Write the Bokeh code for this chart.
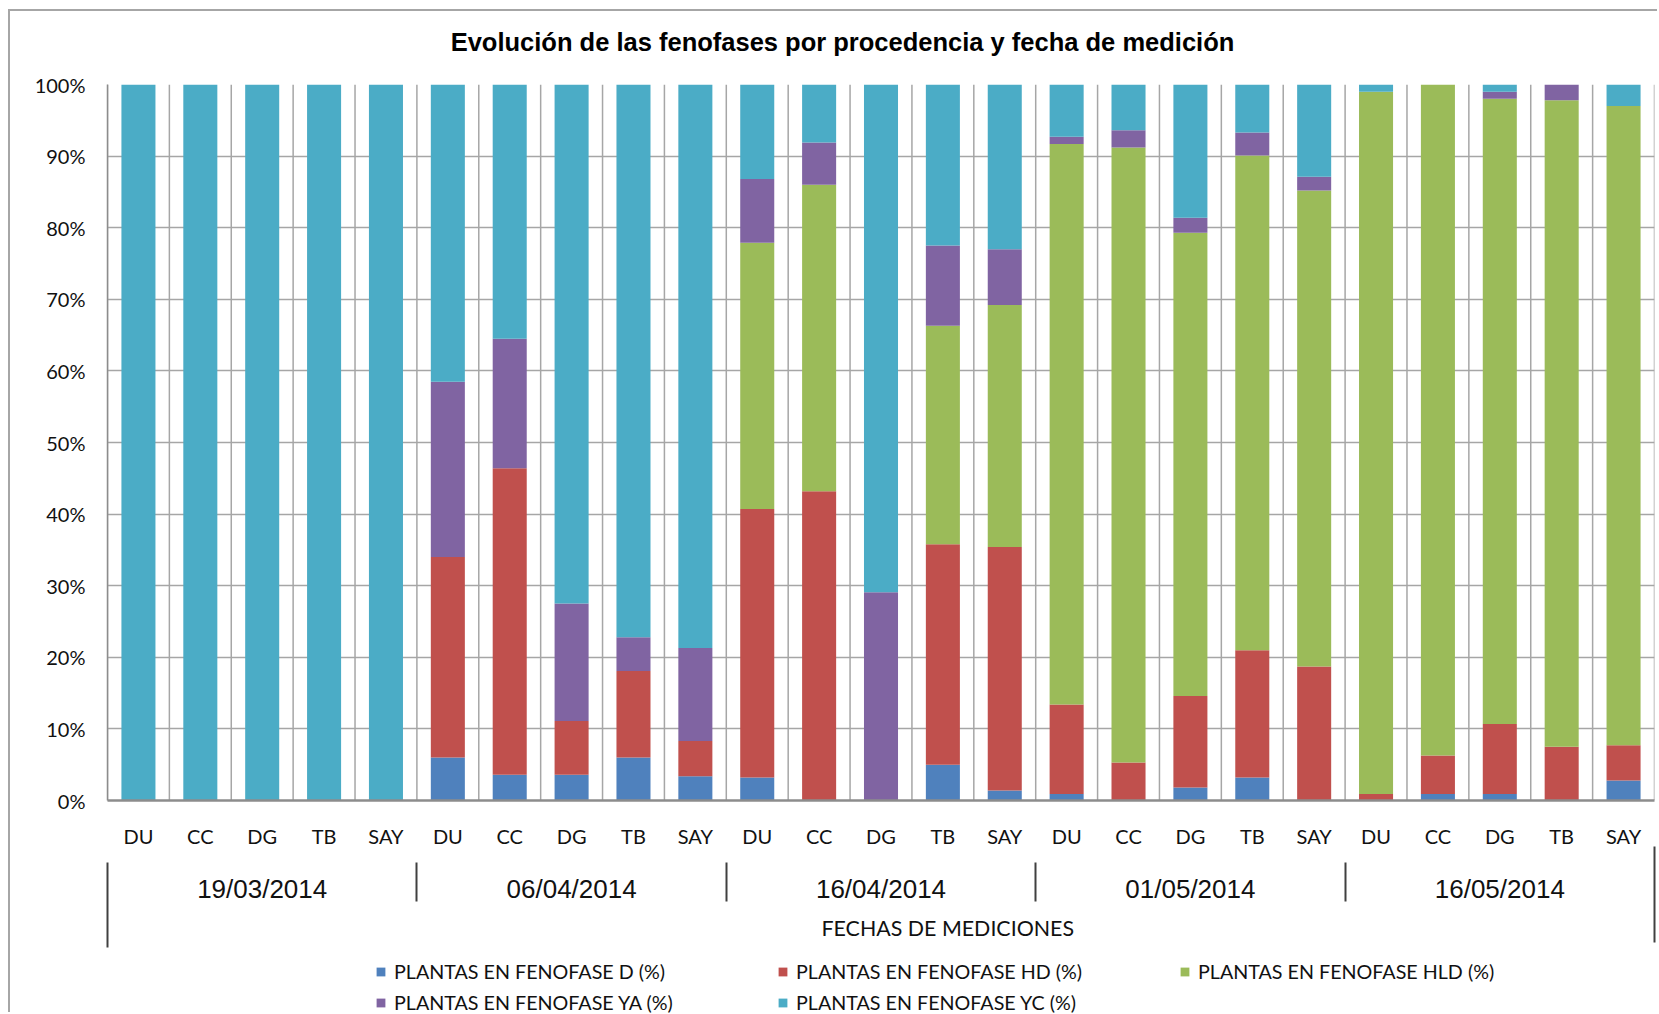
from bokeh.plotting import figure
from bokeh.layouts import column
from bokeh.models import (FactorRange, Range1d, LinearAxis, FixedTicker, Legend,
                          LegendItem, Title, PrintfTickFormatter, ColumnDataSource)
from bokeh.embed import file_html
from bokeh.resources import INLINE

# Measurement dates and provenances
dates = ["19/03/2014", "06/04/2014", "16/04/2014", "01/05/2014", "16/05/2014"]
sites = ["DU", "CC", "DG", "TB", "SAY"]

# Share of plants in each phenophase (%), one value per (date, provenance)
fase_d = [0, 0, 0, 0, 0,
          6.0, 3.6, 3.6, 6.0, 3.4,
          3.2, 0, 0, 5.0, 1.4,
          0.9, 0, 1.8, 3.2, 0,
          0, 0.9, 0.9, 0, 2.8]
fase_hd = [0, 0, 0, 0, 0,
           28.0, 42.8, 7.5, 12.1, 4.9,
           37.5, 43.2, 0, 30.8, 34.0,
           12.5, 5.3, 12.8, 17.8, 18.7,
           0.9, 5.4, 9.8, 7.5, 4.9]
fase_hld = [0, 0, 0, 0, 0,
            0, 0, 0, 0, 0,
            37.2, 42.8, 0, 30.5, 33.8,
            78.3, 85.9, 64.7, 69.1, 66.5,
            98.1, 93.7, 87.3, 90.3, 89.3]
fase_ya = [0, 0, 0, 0, 0,
           24.5, 18.1, 16.4, 4.7, 13.0,
           8.9, 5.9, 29.1, 11.2, 7.8,
           1.0, 2.4, 2.1, 3.2, 1.9,
           0, 0, 1.0, 2.2, 0]
fase_yc = [100, 100, 100, 100, 100,
           41.5, 35.5, 72.5, 77.2, 78.7,
           13.2, 8.1, 70.9, 22.5, 23.0,
           7.3, 6.4, 18.6, 6.7, 12.9,
           1.0, 0, 1.0, 0, 3.0]

series_names = ["PLANTAS EN FENOFASE D (%)", "PLANTAS EN FENOFASE HD (%)",
                "PLANTAS EN FENOFASE HLD (%)", "PLANTAS EN FENOFASE YA (%)",
                "PLANTAS EN FENOFASE YC (%)"]
colors = ["#4f81bd", "#c0504d", "#9bbb59", "#8064a2", "#4bacc6"]
chart_title = "Evolución de las fenofases por procedencia y fecha de medición"

factors = [(d, s) for d in dates for s in sites]
keys = ["d", "hd", "hld", "ya", "yc"]
source = ColumnDataSource(dict(x=factors, d=fase_d, hd=fase_hd, hld=fase_hld,
                               ya=fase_ya, yc=fase_yc))

# page layout (pixels): the chart box starts just inside a thin frame line
OX, OY = 10, 11
W = 1659 - OX
LEG_H = 60                      # height of the legend strip
H = 1014 - OY - LEG_H           # height of the chart itself
FRAME_LEFT, FRAME_RIGHT, FRAME_TOP, FRAME_BOTTOM = 107, 1654, 84, 800
x_range = FactorRange(*factors, factor_padding=0, group_padding=0, range_padding=0)
p = figure(x_range=x_range, y_range=Range1d(0, 100), width=W, height=H,
           output_backend="svg", toolbar_location=None,
           min_border_left=FRAME_LEFT - OX, min_border_right=1659 - FRAME_RIGHT,
           min_border_top=FRAME_TOP - OY, min_border_bottom=H - (FRAME_BOTTOM - OY),
           background_fill_color="white", border_fill_color="white")
p.outline_line_color = None
n = len(factors)
group = len(sites)
px_per_cat = (FRAME_RIGHT - FRAME_LEFT) / n

# category axis: provenance labels
xa = p.below[0]
xa.axis_line_color = "#8c8c8c"
xa.axis_line_width = 2.5
xa.major_tick_out = 0
xa.major_tick_in = 0
xa.major_tick_line_color = None
xa.major_label_standoff = 23
xa.major_label_text_font = "Lato"
xa.major_label_text_font_size = "20px"
xa.major_label_text_color = "#111111"
xa.group_text_color = None
xa.separator_line_color = None

# vertical grid lines at category boundaries (synthetic category coordinates)
bounds = list(range(n + 1))
p.segment(x0=bounds, y0=[0] * len(bounds), x1=bounds, y1=[100] * len(bounds),
          line_color="#a6a6a6", line_width=1.5)

renderers = p.vbar_stack(keys, x="x", width=0.55, color=colors, line_color=None, source=source)

# y axis
p.yaxis.ticker = FixedTicker(ticks=list(range(0, 101, 10)))
p.yaxis.formatter = PrintfTickFormatter(format="%d%%")
p.yaxis.major_tick_out = 0
p.yaxis.major_tick_in = 0
p.yaxis.minor_tick_line_color = None
p.yaxis.axis_line_color = "#8c8c8c"
p.yaxis.axis_line_width = 1.5
p.yaxis.major_label_standoff = 22
p.yaxis.major_label_text_font = "Lato"
p.yaxis.major_label_text_font_size = "20px"
p.yaxis.major_label_text_color = "#111111"

p.ygrid.grid_line_color = "#a6a6a6"
p.ygrid.grid_line_width = 1.5
p.xgrid.grid_line_color = None

# chart title, carried by a bare axis above the frame
title_x = round((842 - FRAME_LEFT) / px_per_cat, 3)
title_axis = LinearAxis(ticker=FixedTicker(ticks=[title_x], minor_ticks=[]),
                        major_label_overrides={title_x: chart_title},
                        axis_line_color=None, major_tick_line_color=None,
                        minor_tick_line_color=None,
                        major_tick_in=0, major_tick_out=0,
                        major_label_standoff=29,
                        major_label_text_font="Liberation Sans",
                        major_label_text_font_style="bold",
                        major_label_text_font_size="25.5px",
                        major_label_text_color="#000000")
p.add_layout(title_axis, "above")

# date axis with the separators between dates
centers = [group * i + group / 2 for i in range(len(dates))]
inner = [group * i for i in range(1, len(dates))]
ax2 = LinearAxis(ticker=FixedTicker(ticks=centers, minor_ticks=inner),
                 major_label_overrides={c: d for c, d in zip(centers, dates)},
                 axis_line_color=None, major_tick_line_color=None,
                 major_tick_in=0, major_tick_out=0,
                 minor_tick_in=-12, minor_tick_out=51,
                 minor_tick_line_color="#404040", minor_tick_line_width=2,
                 major_label_standoff=-28,
                 major_label_text_font="Liberation Sans",
                 major_label_text_font_size="26px",
                 major_label_text_color="#111111")
p.add_layout(ax2, "below")

# axis title
p.add_layout(Title(text="FECHAS DE MEDICIONES", align="left", offset=714, standoff=13,
                   text_font="Lato", text_font_size="21.4px", text_font_style="normal",
                   text_color="#111111"), "below")

# outer separators at both ends of the category axis
ax3 = LinearAxis(ticker=FixedTicker(ticks=[0], minor_ticks=[n]),
                 major_label_overrides={0: ""},
                 axis_line_color=None,
                 major_tick_in=85, major_tick_out=0,
                 minor_tick_in=101, minor_tick_out=-5,
                 major_tick_line_color="#404040", major_tick_line_width=2,
                 minor_tick_line_color="#404040", minor_tick_line_width=2,
                 major_label_standoff=0,
                 major_label_text_font_size="1px",
                 major_label_text_color=None)
p.add_layout(ax3, "below")

# legend strip under the chart; its swatch renderers stack the same data,
# but the strip's y range lies above 100 %, so only the legend is visible
leg = figure(width=W, height=LEG_H, x_range=x_range, y_range=Range1d(200, 201),
             output_backend="svg", toolbar_location=None, min_border=0,
             background_fill_color="white", border_fill_color="white")
leg.axis.visible = False
leg.grid.visible = False
leg.outline_line_color = None
swatches = leg.vbar_stack(keys, x="x", width=0.55, color=colors, line_color=None, source=source)
items = [LegendItem(label=name, renderers=[r]) for name, r in zip(series_names, swatches)]
legend = Legend(items=items, orientation="horizontal", ncols=3,
                location=(375 - FRAME_LEFT, 0),
                padding=0, margin=0, spacing=8,
                glyph_width=11, glyph_height=11, label_standoff=8, label_width=375,
                label_text_font="Lato", label_text_font_size="19.7px", label_text_color="#111111",
                border_line_color=None, background_fill_alpha=0)
leg.add_layout(legend, "center")

layout = column(p, leg, spacing=0, margin=(OY, 0, 0, OX),
                styles={"box-shadow": "-2px -2px 0 0 #a6a6a6"})

open("out.html", "w").write(file_html(layout, INLINE))
